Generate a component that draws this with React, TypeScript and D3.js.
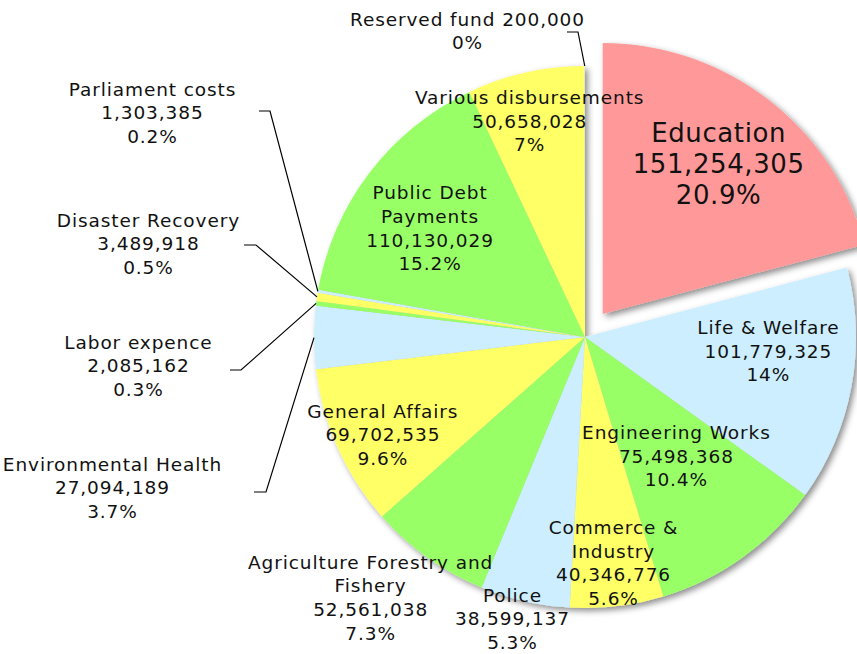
import React, { useRef, useEffect } from 'react';
import * as d3 from 'd3';

const categories = [
  'Education', 'Life & Welfare', 'Engineering Works', 'Commerce & Industry', 'Police',
  'Agriculture Forestry and Fishery', 'General Affairs', 'Environmental Health', 'Labor expence',
  'Disaster Recovery', 'Parliament costs', 'Public Debt Payments', 'Various disbursements', 'Reserved fund',
];
const amounts = [
  151254305, 101779325, 75498368, 40346776, 38599137,
  52561038, 69702535, 27094189, 2085162,
  3489918, 1303385, 110130029, 50658028, 200000,
];
const percentLabels = ['20.9%', '14%', '10.4%', '5.6%', '5.3%', '7.3%', '9.6%', '3.7%', '0.3%', '0.5%', '0.2%', '15.2%', '7%', '0%'];
const nameLines = [
  ['Education'], ['Life & Welfare'], ['Engineering Works'], ['Commerce &', 'Industry'], ['Police'],
  ['Agriculture Forestry and', 'Fishery'], ['General Affairs'], ['Environmental Health'], ['Labor expence'],
  ['Disaster Recovery'], ['Parliament costs'], ['Public Debt', 'Payments'], ['Various disbursements'], ['Reserved fund'],
];
const sliceColors = [
  '#ff9999', '#cceeff', '#99ff66', '#ffff66', '#cceeff',
  '#99ff66', '#ffff66', '#cceeff', '#99ff66',
  '#ffff66', '#cceeff', '#99ff66', '#ffff66', '#cceeff',
];

const width = 857;
const height = 654;
const cx = 585;
const cy = 337;
const radius = 271;
const explode = 29;
const fontFamily = '"DejaVu Sans", "Noto Sans", sans-serif';

// label placement: angle nudge (deg) and radius factor for labels sitting on the pie
const inside: Record<string, { da: number; r: number }> = {
  'Education': { da: 0, r: 0.70 },
  'Life & Welfare': { da: -6, r: 0.677 },
  'Engineering Works': { da: -1.8, r: 0.553 },
  'Commerce & Industry': { da: -0.3, r: 0.84 },
  'Police': { da: 1.7, r: 1.074 },
  'Agriculture Forestry and Fishery': { da: 4, r: 1.247 },
  'General Affairs': { da: -1.6, r: 0.83 },
  'Public Debt Payments': { da: -2.4, r: 0.70 },
  'Various disbursements': { da: -1.8, r: 0.823 },
};
// leader-line labels: text block centre and elbow, relative to pie centre
const outside: Record<string, { tx: number; ty: number; ex: number; ey: number; len: number; oneLine?: boolean }> = {
  'Reserved fund': { tx: -118, ty: -306, ex: -7, ey: -305, len: 11, oneLine: true },
  'Parliament costs': { tx: -433, ty: -224, ex: -315, ey: -226, len: 11 },
  'Disaster Recovery': { tx: -437, ty: -93, ex: -329, ey: -92, len: 12 },
  'Labor expence': { tx: -447, ty: 29, ex: -344, ey: 33, len: 11 },
  'Environmental Health': { tx: -473, ty: 151, ex: -319, ey: 155, len: 12 },
};

const App = () => {
  const svgRef = useRef<SVGSVGElement>(null);

  useEffect(() => {
    const svg = d3.select(svgRef.current);
    svg.selectAll('*').remove();

    const data = categories.map((c, i) => ({ name: c, value: amounts[i], i }));
    const pie = d3.pie<any>().sort(null).value(d => d.value);
    const arcs = pie(data);
    const arcGen = d3.arc<any>().innerRadius(0).outerRadius(radius);

    const defs = svg.append('defs');
    const filter = defs.append('filter').attr('id', 'shadow')
      .attr('x', '-10%').attr('y', '-10%').attr('width', '120%').attr('height', '120%');
    filter.append('feDropShadow')
      .attr('dx', 3).attr('dy', 3).attr('stdDeviation', 3)
      .attr('flood-color', '#000').attr('flood-opacity', 0.45);

    const g = svg.append('g').attr('transform', `translate(${cx},${cy})`);
    const slices = g.append('g').attr('filter', 'url(#shadow)');

    const offsetOf = (d: any) => {
      if (d.index !== 0) return [0, 0];
      const a = (d.startAngle + d.endAngle) / 2;
      return [Math.sin(a) * explode, -Math.cos(a) * explode];
    };

    slices.selectAll('path')
      .data(arcs)
      .join('path')
      .attr('d', arcGen)
      .attr('fill', (d: any) => sliceColors[d.index])
      .attr('transform', (d: any) => `translate(${offsetOf(d)})`);

    const labels = g.append('g')
      .style('font-family', fontFamily)
      .attr('fill', '#111');

    const fmt = d3.format(',');

    arcs.forEach((d: any) => {
      const name = categories[d.index];
      const isBig = d.index === 0;
      const fs = isBig ? 26 : 18.5;
      const ls = isBig ? 0.6 : 0.9;
      const lh = isBig ? 31 : 23.7;
      let lines = [...nameLines[d.index], fmt(amounts[d.index]), percentLabels[d.index]];
      let px: number;
      let py: number;

      if (inside[name]) {
        const { da, r } = inside[name];
        const a = (d.startAngle + d.endAngle) / 2 + (da * Math.PI) / 180;
        const [ox, oy] = offsetOf(d);
        const rr = r * radius;
        px = ox + Math.sin(a) * rr;
        py = oy - Math.cos(a) * rr;
      } else {
        const o = outside[name];
        if (o.oneLine) lines = [`${nameLines[d.index][0]} ${fmt(amounts[d.index])}`, percentLabels[d.index]];
        px = o.tx;
        py = o.ty;
        const a = (d.startAngle + d.endAngle) / 2;
        const sx = Math.sin(a) * radius;
        const sy = -Math.cos(a) * radius;
        g.append('polyline')
          .attr('points', [[sx, sy], [o.ex, o.ey], [o.ex - o.len, o.ey]].map(p => p.join(',')).join(' '))
          .attr('fill', 'none')
          .attr('stroke', '#000')
          .attr('stroke-width', 1.2);
      }

      const t = labels.append('text')
        .attr('text-anchor', 'middle')
        .style('font-size', `${fs}px`)
        .style('letter-spacing', `${ls}px`);
      lines.forEach((ln, k) => {
        t.append('tspan')
          .attr('x', px + ls / 2)
          .attr('y', py + (k - (lines.length - 1) / 2) * lh)
          .attr('dy', '0.35em')
          .text(ln);
      });
    });
  }, []);

  return (
    <svg
      ref={svgRef}
      width={width}
      height={height}
      style={{ position: 'absolute', left: 0, top: 0, background: '#fff' }}
    />
  );
};

export default App;
